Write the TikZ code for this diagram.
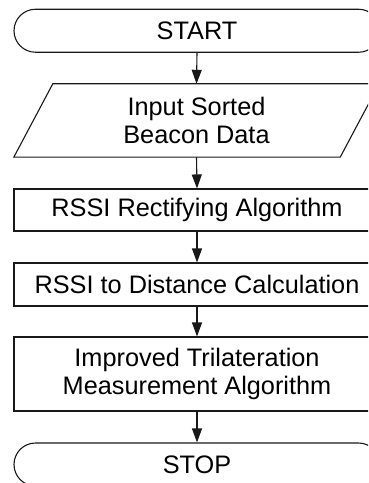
\documentclass[tikz,border=0pt]{standalone}
\usepackage{fontspec}
\setmainfont{Liberation Sans}
\usetikzlibrary{shapes.misc,arrows.meta,calc}
\begin{document}
\begin{tikzpicture}[x=1bp,y=-1bp,
  every node/.style={font=\fontsize{25.3bp}{28bp}\selectfont, align=center, inner sep=0pt},
  lineclr/.style={draw=black!90, line width=1.1bp},
  term/.style={lineclr, rounded rectangle, minimum width=366bp, minimum height=43bp},
  procbox/.style={lineclr, rectangle, minimum width=366bp},
  iobox/.style={rectangle, minimum width=326bp, minimum height=73bp},
  flow/.style={lineclr, -{Triangle[length=14bp,width=10bp]}}]
\useasboundingbox (0,0) rectangle (368,483);
\begin{scope}
\clip (0,0) rectangle (368,483);
\node[term] (start) at (197,30.75) {START};
\node[iobox] (inp) at (196.5,120.5) {Input Sorted\\Beacon Data};
\draw[lineclr] ($(inp.north west)+(19.5,0)$) -- ($(inp.north east)+(19.5,0)$)
  -- ($(inp.south east)+(-19.5,0)$) -- ($(inp.south west)+(-19.5,0)$) -- cycle;
\node[procbox, minimum height=42bp] (rect) at (197,210) {RSSI Rectifying Algorithm};
\node[procbox, minimum height=43bp] (dist) at (197,284.5) {RSSI to Distance Calculation};
\node[procbox, minimum height=74bp] (tri) at (197,374) {Improved Trilateration\\Measurement Algorithm};
\node[term] (stop) at (197,464.5) {STOP};
\draw[flow] (start.south) -- (inp.north);
\draw[flow] (inp.south) -- (rect.north);
\draw[flow] (rect.south) -- (dist.north);
\draw[flow] (dist.south) -- (tri.north);
\draw[flow] (tri.south) -- (stop.north);
\end{scope}
\end{tikzpicture}
\end{document}
